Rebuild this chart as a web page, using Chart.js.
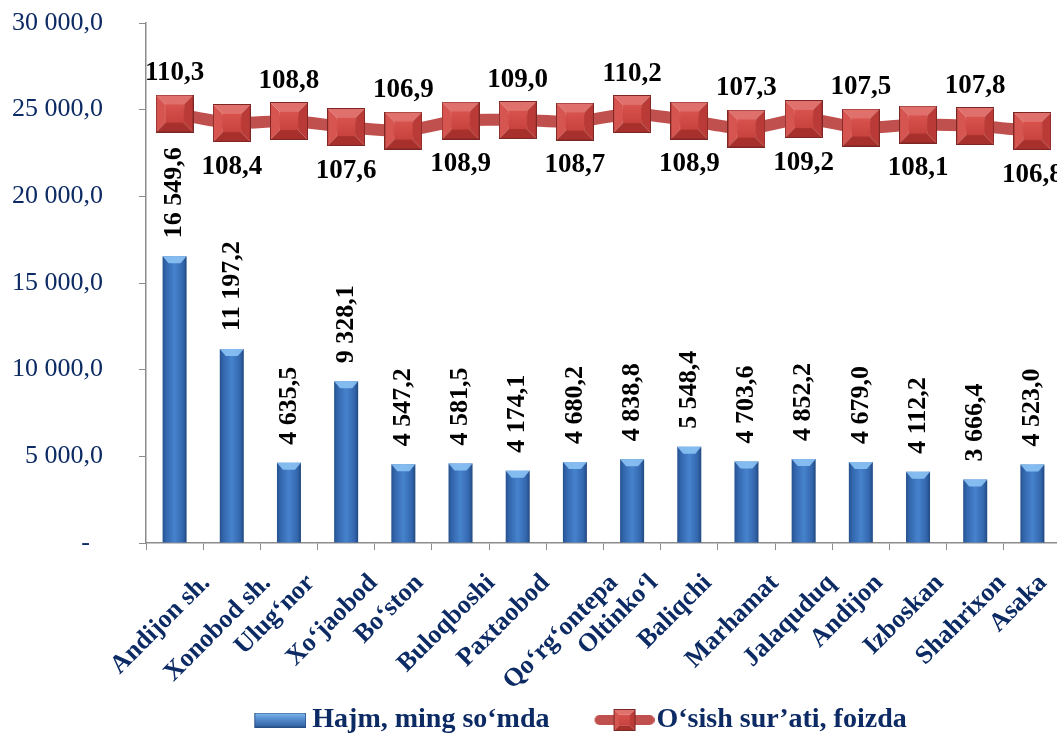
<!DOCTYPE html>
<html><head><meta charset="utf-8">
<script src="https://cdn.jsdelivr.net/npm/chart.js@4.4.0/dist/chart.umd.min.js"></script>
<style>
html,body{margin:0;padding:0;background:#fff;overflow:hidden;width:1057px;height:735px}
#wrap{position:relative;width:1145px;height:735px}
</style>
</head><body>
<div id="wrap"><canvas id="c" width="1145" height="735"></canvas></div>
<script>
const categories = ['Andijon sh.','Xonobod sh.','Ulug‘nor','Xo‘jaobod','Bo‘ston','Buloqboshi','Paxtaobod','Qo‘rg‘ontepa','Oltinko‘l','Baliqchi','Marhamat','Jalaquduq','Andijon','Izboskan','Shahrixon','Asaka'];
const volume = [16549.6,11197.2,4635.5,9328.1,4547.2,4581.5,4174.1,4680.2,4838.8,5548.4,4703.6,4852.2,4679.0,4112.2,3666.4,4523.0];
const growth = [110.3,108.4,108.8,107.6,106.9,108.9,109.0,108.7,110.2,108.9,107.3,109.2,107.5,108.1,107.8,106.8];
const yTicks = [0,5000,10000,15000,20000,25000,30000];
const seriesNames = ['Hajm, ming so‘mda','O‘sish sur’ati, foizda'];

const NAVY = '#0c2a63';
const SERIF = "'Liberation Serif','Times New Roman',serif";

function fmt1(v){
  const s = v.toFixed(1); let [i,d] = s.split('.');
  i = i.replace(/\B(?=(\d{3})+(?!\d))/g,' ');
  return i + ',' + d;
}
function poly(g, pts, color){
  g.beginPath(); g.moveTo(pts[0][0],pts[0][1]);
  for (let k=1;k<pts.length;k++) g.lineTo(pts[k][0],pts[k][1]);
  g.closePath(); g.fillStyle=color; g.fill();
}
function bevelSquare(g, x, y, s){
  const b = s*0.26;
  poly(g,[[x,y],[x+s,y],[x+s-b,y+b],[x+b,y+b]],'#e0706b');
  poly(g,[[x,y],[x+b,y+b],[x+b,y+s-b],[x,y+s]],'#d65550');
  poly(g,[[x+s,y],[x+s,y+s],[x+s-b,y+s-b],[x+s-b,y+b]],'#b93a36');
  poly(g,[[x,y+s],[x+b,y+s-b],[x+s-b,y+s-b],[x+s,y+s]],'#a8302c');
  const gr = g.createLinearGradient(0,y+b,0,y+s-b);
  gr.addColorStop(0,'#d9534e'); gr.addColorStop(1,'#c8423e');
  g.fillStyle = gr; g.fillRect(x+b,y+b,s-2*b,s-2*b);
  g.strokeStyle='#7d2623'; g.lineWidth=1; g.strokeRect(x+0.5,y+0.5,s-1,s-1);
}
function makeMarker(s){
  const c=document.createElement('canvas'); c.width=s; c.height=s;
  bevelSquare(c.getContext('2d'),0,0,s); return c;
}
function makeLegendBar(){
  const c=document.createElement('canvas'); c.width=76; c.height=15;
  const g=c.getContext('2d');
  const gr=g.createLinearGradient(0,0,0,15);
  gr.addColorStop(0,'#8cc0f0'); gr.addColorStop(0.35,'#5b95d6'); gr.addColorStop(1,'#2f5f9e');
  g.fillStyle=gr; g.fillRect(24,0,52,15);
  g.strokeStyle='#274f86'; g.lineWidth=1; g.strokeRect(24.5,0.5,51,14);
  return c;
}
function makeLegendLine(){
  const c=document.createElement('canvas'); c.width=84; c.height=24;
  const g=c.getContext('2d');
  g.strokeStyle='#c0504d'; g.lineWidth=10; g.lineCap='round';
  g.beginPath(); g.moveTo(29,12); g.lineTo(79,12); g.stroke();
  bevelSquare(g,43,1,22);
  return c;
}
const marker = makeMarker(38);
const legendBar = makeLegendBar();
const legendLine = makeLegendLine();

function barFill(ctx){
  const chart = ctx.chart, xs = chart.scales.x;
  if (!xs || ctx.dataIndex === undefined) return '#3f78c0';
  const cx = xs.getPixelForValue(ctx.dataIndex);
  const w = (xs.width/categories.length)*0.42;
  if (!isFinite(cx) || !isFinite(w) || w <= 0) return '#3f78c0';
  const gr = chart.ctx.createLinearGradient(cx-w/2,0,cx+w/2,0);
  gr.addColorStop(0,'#25528f'); gr.addColorStop(0.15,'#3366ad');
  gr.addColorStop(0.5,'#4683cd'); gr.addColorStop(0.85,'#3366ad'); gr.addColorStop(1,'#21497f');
  return gr;
}

const labelsPlugin = {
  id:'labelsPlugin',
  afterDatasetsDraw(chart){
    const g = chart.ctx;
    const barMeta = chart.getDatasetMeta(0);
    barMeta.data.forEach((el,i)=>{
      const w = el.width;
      g.save();
      g.beginPath(); g.moveTo(el.x-w/2,el.y); g.lineTo(el.x+w/2,el.y); g.lineTo(el.x+w/2-6,el.y+7); g.lineTo(el.x-w/2+6,el.y+7); g.closePath();
      g.fillStyle='rgba(140,195,245,0.9)'; g.fill();
      g.restore();
      g.save();
      g.translate(el.x, el.y-18); g.rotate(-Math.PI/2);
      g.font = "bold 26px "+SERIF; g.fillStyle='#000';
      g.textAlign='left'; g.textBaseline='middle';
      g.fillText(fmt1(volume[i]),0,0);
      g.restore();
    });
    const lineMeta = chart.getDatasetMeta(1);
    lineMeta.data.forEach((el,i)=>{
      g.save();
      g.font = "bold 27px "+SERIF; g.fillStyle='#000';
      g.textAlign='center'; g.textBaseline='middle';
      const dy = (i%2===0) ? -40 : 44;
      g.fillText(fmt1(growth[i]), el.x, el.y+dy);
      g.restore();
    });
  },
  afterDraw(chart){
    const g = chart.ctx, xs = chart.scales.x;
    g.save();
    g.font = "bold 26px "+SERIF; g.fillStyle=NAVY;
    g.textAlign='center'; g.textBaseline='middle';
    chart.data.labels.forEach((lab,i)=>{
      const L = g.measureText(lab).width;
      const cx = xs.getPixelForValue(i) - 14;
      const cy = xs.top + 36 + 0.354*L;
      g.save(); g.translate(cx,cy); g.rotate(-Math.PI/4);
      g.fillText(lab,0,0); g.restore();
    });
    g.restore();
  }
};

new Chart(document.getElementById('c'), {
  data:{
    labels: categories,
    datasets:[
      { type:'bar', label: seriesNames[0], data: volume, yAxisID:'y', order:2,
        backgroundColor: barFill, borderWidth:0,
        barPercentage:0.42, categoryPercentage:1 },
      { type:'line', label: seriesNames[1], data: growth, yAxisID:'y2', order:1,
        borderColor:'#c0504d', borderWidth:12, tension:0.3,
        pointStyle: marker, pointRadius:19, pointBorderWidth:0, pointHoverRadius:19,
        backgroundColor:'#c0504d' }
    ]
  },
  options:{
    responsive:false, animation:false,
    layout:{ padding:{ top:23, bottom:-9, left:0, right:0 } },
    scales:{
      x:{
        grid:{ display:true, drawOnChartArea:false, drawTicks:true, tickLength:7, color:'#8c8c8c', offset:true },
        border:{ display:true, color:'#8c8c8c', width:1.5 },
        ticks:{ display:false },
        afterFit(s){ s.height = 130; }
      },
      y:{
        position:'left', min:0, max:30000,
        grid:{ display:true, drawOnChartArea:false, drawTicks:true, tickLength:7, color:'#8c8c8c' },
        border:{ display:true, color:'#8c8c8c', width:1.5 },
        afterBuildTicks(s){ s.ticks = yTicks.map(v=>({value:v})); },
        ticks:{ padding:36, color:NAVY, font:{ family:SERIF, size:26 },
          callback:(v)=> v===0 ? '-  ' : fmt1(v) },
        afterFit(s){ s.width = 146; s.paddingTop = 10; s.paddingBottom = 10; }
      },
      y2:{
        position:'right', min:24.4, max:128.4,
        grid:{ display:false }, border:{ display:false }, ticks:{ display:false },
        afterFit(s){ s.width = 84; }
      }
    },
    plugins:{
      tooltip:{ enabled:false },
      legend:{
        position:'bottom',
        labels:{
          usePointStyle:true, pointStyleWidth:60, padding:33,
          color:NAVY, font:{ family:SERIF, size:28, weight:'bold' },
          generateLabels(chart){
            const items = Chart.defaults.plugins.legend.labels.generateLabels(chart);
            items.sort((a,b)=>a.datasetIndex-b.datasetIndex);
            items[0].pointStyle = legendBar; items[1].pointStyle = legendLine;
            return items;
          }
        }
      }
    }
  },
  plugins:[labelsPlugin]
});
</script>
</body></html>
